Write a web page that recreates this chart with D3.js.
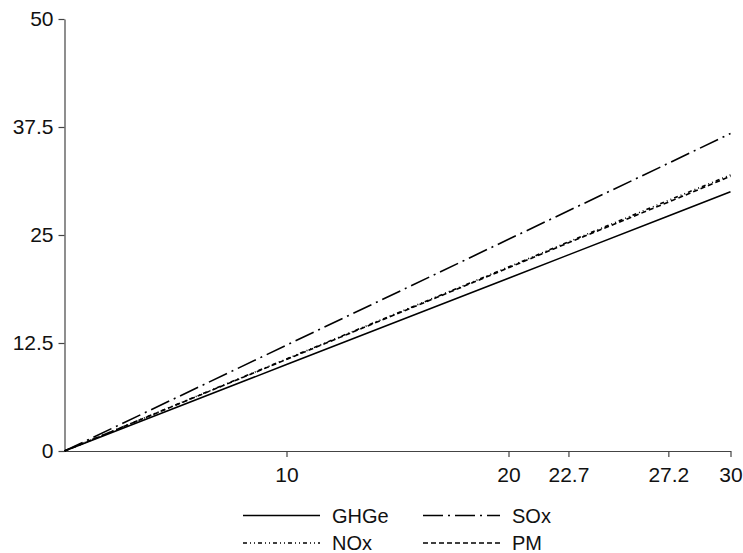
<!DOCTYPE html>
<html><head><meta charset="utf-8">
<script src="https://cdn.jsdelivr.net/npm/d3@7"></script>
<style>body{margin:0;background:#fff}svg{display:block}</style>
</head><body>
<script>
const xValues = [0, 10, 20, 22.7, 27.2, 30];
const ghge = [0, 10, 20, 22.7, 27.2, 30];
const sox = [0, 12.25, 24.5, 27.8, 33.3, 36.75];
const nox = [0, 10.65, 21.3, 24.2, 29.0, 31.95];
const pm = [0, 10.6, 21.2, 24.1, 28.8, 31.8];
const xTicks = [10, 20, 22.7, 27.2, 30];
const yTicks = [0, 12.5, 25, 37.5, 50];
const seriesNames = ["GHGe", "SOx", "NOx", "PM"];

const W = 743, H = 553;
const FONT = "'Liberation Sans', Arial, sans-serif";
const svg = d3.select("body").append("svg").attr("width", W).attr("height", H);
const x = d3.scaleLinear().domain([0, 30]).range([64.5, 730.5]);
const y = d3.scaleLinear().domain([0, 50]).range([451, 19]);

const axisColor = "#444";
const gx = svg.append("g").attr("transform", `translate(0,${y(0)})`)
  .call(d3.axisBottom(x).tickValues(xTicks).tickFormat(d => String(d)).tickSize(6).tickSizeOuter(0));
const gy = svg.append("g").attr("transform", `translate(${x(0)},0)`)
  .call(d3.axisLeft(y).tickValues(yTicks).tickFormat(d => String(d)).tickSize(6).tickSizeOuter(0));
[gx, gy].forEach(g => {
  g.attr("font-family", FONT).attr("font-size", 21);
  g.select(".domain").attr("stroke", axisColor).attr("stroke-width", 1.2);
  g.selectAll(".tick line").attr("stroke", axisColor).attr("stroke-width", 1.2);
  g.selectAll("text").attr("fill", "#111");
});
gx.selectAll("text").attr("y", 16).attr("dy", "0.71em");
gy.selectAll("text").attr("x", -11);

const styles = {
  "GHGe": "",
  "SOx": "20,5,2,5",
  "NOx": "4,3,1,3,1,3",
  "PM": "5,3"
};
const data = {"GHGe": ghge, "SOx": sox, "NOx": nox, "PM": pm};
const line = d3.line().x((d, i) => x(xValues[i])).y(d => y(d));
seriesNames.forEach(n => {
  svg.append("path").datum(data[n]).attr("d", line)
    .attr("fill", "none").attr("stroke", "#000").attr("stroke-width", 1.6)
    .attr("stroke-dasharray", styles[n] || null);
});

// legend
const legend = [
  {name: "GHGe", lx: 243, ly: 515.5},
  {name: "SOx", lx: 423, ly: 515.5},
  {name: "NOx", lx: 243, ly: 543},
  {name: "PM", lx: 423, ly: 543}
];
legend.forEach(l => {
  svg.append("line").attr("x1", l.lx).attr("x2", l.lx + 77).attr("y1", l.ly).attr("y2", l.ly)
    .attr("stroke", "#000").attr("stroke-width", 1.6)
    .attr("stroke-dasharray", styles[l.name] || null);
  svg.append("text").attr("x", l.lx + 89).attr("y", l.ly).attr("dy", "0.36em")
    .attr("font-family", FONT).attr("font-size", 20).attr("fill", "#111").text(l.name);
});
</script>
</body></html>
